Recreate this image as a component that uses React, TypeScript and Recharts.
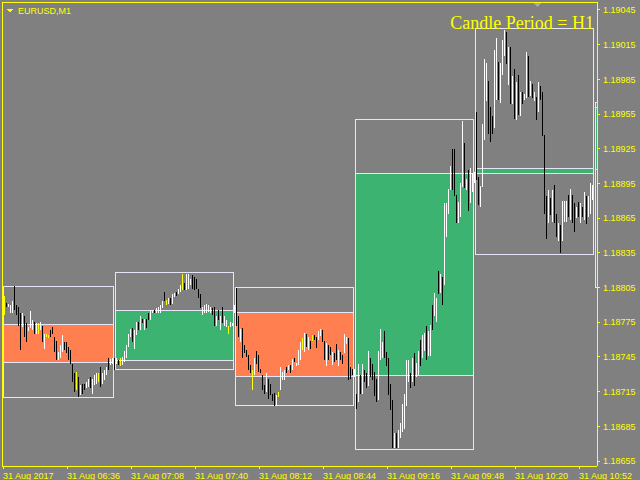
import React from "react";
import { Bar, Cell, ComposedChart, ReferenceArea, ReferenceLine, XAxis, YAxis } from "recharts";

// M1 bars, one per minute from 31 Aug 06:04
const M1_HIGH = [
  1.18794, 1.18798, 1.18792, 1.18791, 1.1879, 1.18793, 1.18806, 1.1879, 1.18788, 1.18783,
  1.18783, 1.1878, 1.18774, 1.18771, 1.18785, 1.18777, 1.18775, 1.18774, 1.18774, 1.18775,
  1.18772, 1.18765, 1.18765, 1.18764, 1.18768, 1.18771, 1.18762, 1.18759, 1.18749, 1.18755,
  1.18764, 1.18758, 1.18758, 1.18754, 1.18751, 1.18739, 1.18731, 1.18732, 1.18728, 1.18721,
  1.18722, 1.18722, 1.18723, 1.18726, 1.18728, 1.18726, 1.18729, 1.18731, 1.18731, 1.18736,
  1.18731, 1.18734, 1.18736, 1.18744, 1.18743, 1.18744,
  1.18744, 1.18744, 1.18742, 1.18744, 1.18745, 1.1875, 1.18755, 1.18765, 1.18769, 1.1877,
  1.18768, 1.18775, 1.18775, 1.1878, 1.18778, 1.18778, 1.18778, 1.18783, 1.18786, 1.18786,
  1.18786, 1.18787, 1.18788, 1.1879, 1.18793, 1.18801, 1.18794, 1.18796, 1.18796, 1.18799,
  1.188, 1.18801, 1.18804, 1.18807, 1.18817, 1.18809, 1.18817, 1.18817, 1.18812, 1.18816,
  1.18814, 1.18812, 1.18804, 1.18799, 1.18788, 1.1879, 1.18791, 1.1879, 1.18788, 1.18787,
  1.18788, 1.1878, 1.18786, 1.1878, 1.18788, 1.1878, 1.18777, 1.18772, 1.18775, 1.18774,
  1.1879, 1.18805, 1.1878, 1.18769, 1.1877, 1.18755, 1.18751, 1.18747, 1.18738, 1.18734,
  1.18744, 1.1875, 1.18747, 1.18735, 1.18729, 1.18721, 1.18731, 1.18726, 1.18722, 1.18713,
  1.18714, 1.18712, 1.18715, 1.18736, 1.18732, 1.18734, 1.18736, 1.18738, 1.18738, 1.18743,
  1.18744, 1.1874, 1.18751, 1.18758, 1.18761, 1.18766, 1.18765, 1.18762, 1.18759, 1.18764,
  1.18764, 1.18762, 1.18767, 1.18769, 1.18768, 1.18759, 1.18757, 1.18755, 1.18754, 1.18749,
  1.18748, 1.18756, 1.18751, 1.18749, 1.18747, 1.18765, 1.18762, 1.18761, 1.18736, 1.18735,
  1.18735, 1.18713, 1.18739, 1.18729, 1.18739, 1.18734, 1.18731, 1.1875, 1.18744, 1.18739,
  1.18732, 1.18726, 1.1875, 1.18769, 1.18758, 1.18767, 1.18749, 1.18744, 1.18722, 1.18708,
  1.18679, 1.18679, 1.18682, 1.18688, 1.18704, 1.18713, 1.18742, 1.18742, 1.18731, 1.18744,
  1.18748, 1.1874, 1.1875, 1.1876, 1.18764, 1.18766, 1.18772, 1.18767, 1.18773, 1.1879,
  1.188, 1.18796, 1.18819, 1.18817, 1.18814, 1.18878, 1.18878, 1.1889, 1.1891, 1.18925,
  1.18925, 1.18885, 1.18879, 1.18895, 1.18949, 1.1893, 1.18899, 1.18907, 1.18908, 1.18904,
  1.18905, 1.18957, 1.18901, 1.18893, 1.18946, 1.19003, 1.18999, 1.18984, 1.18961, 1.18953,
  1.1901, 1.19021, 1.19, 1.18999, 1.19019, 1.19028, 1.19026, 1.19013, 1.19013, 1.18988,
  1.18994, 1.18983, 1.18989, 1.18974, 1.18974, 1.18972, 1.19009, 1.19005, 1.18984, 1.18981,
  1.18974, 1.1897, 1.18983, 1.18979, 1.18974, 1.18937, 1.18884, 1.18889, 1.18882, 1.18889,
  1.18894, 1.18869, 1.18861, 1.18859, 1.1888, 1.1888, 1.1888, 1.18885, 1.1889, 1.18885,
  1.18878, 1.18875, 1.18879, 1.18878, 1.18875, 1.18888, 1.18884, 1.18884, 1.18895, 1.18894,
];

const M1_LOW = [
  1.18786, 1.18781, 1.18788, 1.18788, 1.18783, 1.18783, 1.18786, 1.18781, 1.18772, 1.18751,
  1.18771, 1.18762, 1.18758, 1.18767, 1.1877, 1.18768, 1.18765, 1.18765, 1.18765, 1.18768,
  1.18758, 1.18752, 1.18762, 1.18761, 1.18762, 1.18765, 1.18749, 1.18742, 1.18742, 1.18744,
  1.18749, 1.18751, 1.18748, 1.18742, 1.18739, 1.18723, 1.18715, 1.18716, 1.1871, 1.18712,
  1.18713, 1.18716, 1.18718, 1.18719, 1.18718, 1.18713, 1.18721, 1.18722, 1.18723, 1.18719,
  1.18722, 1.18725, 1.18729, 1.18734, 1.18738, 1.18739,
  1.18734, 1.18739, 1.18738, 1.18737, 1.18738, 1.18741, 1.18744, 1.18754, 1.18762, 1.18758,
  1.18752, 1.18764, 1.18768, 1.18768, 1.18774, 1.18768, 1.1877, 1.18777, 1.18777, 1.18783,
  1.18783, 1.18783, 1.18783, 1.18783, 1.18787, 1.18793, 1.1879, 1.18791, 1.1879, 1.18791,
  1.18797, 1.18798, 1.18799, 1.18801, 1.18803, 1.18803, 1.18803, 1.18804, 1.18807, 1.18804,
  1.18803, 1.18804, 1.18796, 1.18787, 1.18781, 1.18783, 1.18783, 1.18784, 1.18783, 1.18781,
  1.18772, 1.18772, 1.18777, 1.18768, 1.18774, 1.18772, 1.18771, 1.18765, 1.18771, 1.18772,
  1.18783, 1.18772, 1.18762, 1.18758, 1.18744, 1.18748, 1.18745, 1.18734, 1.18731, 1.18716,
  1.18729, 1.18739, 1.18732, 1.18731, 1.18716, 1.18713, 1.18715, 1.18709, 1.18712, 1.18707,
  1.18703, 1.18703, 1.1871, 1.18716, 1.18725, 1.18725, 1.18731, 1.18734, 1.18731, 1.18734,
  1.18741, 1.18737, 1.18738, 1.18742, 1.18751, 1.18749, 1.18754, 1.18751, 1.18752, 1.18759,
  1.1876, 1.18753, 1.1876, 1.18763, 1.18758, 1.18742, 1.18737, 1.18742, 1.18747, 1.18738,
  1.18741, 1.18742, 1.18737, 1.18742, 1.18739, 1.18748, 1.18756, 1.18725, 1.18726, 1.18729,
  1.18728, 1.187, 1.18706, 1.18713, 1.18713, 1.18723, 1.18718, 1.1872, 1.18728, 1.18725,
  1.18711, 1.18706, 1.18708, 1.18742, 1.18744, 1.18744, 1.18737, 1.18712, 1.18699, 1.18666,
  1.18666, 1.18666, 1.18666, 1.18675, 1.1868, 1.18683, 1.18703, 1.18723, 1.18718, 1.18723,
  1.1872, 1.18728, 1.18729, 1.18737, 1.18744, 1.1875, 1.18742, 1.18746, 1.18746, 1.18768,
  1.1878, 1.18775, 1.18799, 1.188, 1.1879, 1.18807, 1.18849, 1.18869, 1.18889, 1.18889,
  1.18884, 1.18861, 1.18861, 1.18866, 1.18892, 1.18891, 1.18889, 1.18871, 1.18878, 1.18888,
  1.18895, 1.18898, 1.18876, 1.18875, 1.18892, 1.18933, 1.18966, 1.18938, 1.18931, 1.18938,
  1.18943, 1.18967, 1.18967, 1.18965, 1.18989, 1.19005, 1.18998, 1.1898, 1.18964, 1.18964,
  1.18951, 1.1895, 1.18954, 1.18953, 1.18964, 1.18967, 1.18969, 1.1897, 1.18971, 1.18969,
  1.18966, 1.1895, 1.18957, 1.18967, 1.18936, 1.18869, 1.18847, 1.18861, 1.18868, 1.18862,
  1.18861, 1.18849, 1.18845, 1.18835, 1.18845, 1.18862, 1.18862, 1.18866, 1.18863, 1.18861,
  1.18853, 1.18865, 1.18866, 1.18861, 1.18866, 1.18863, 1.1886, 1.18866, 1.18869, 1.18881,
];

// W = up bar, B = down bar, Y = doji
const M1_KIND = (
  "WYBWWWBBBB" + "WBBWWWBWYW" + "BWYYBBBBWW" + "WBBBBBBYBW" + "BBWWBWWWYB" + "WWWBWW" +
  "BWBYWWWWWB" + "WWBWBWBBWW" + "BWWWWBYWBW" + "WBWWYBWWWB" + "BBBBWWWWWB" + "BWBWBWWYWW" +
  "WBBWBBBBBY" + "WBBBBBWBBB" + "BWYWWWBWBW" + "BWWWYWBWBY" + "BBWWBBWBBW" + "BBWBBWWBBB" +
  "WBWBWBBWBB" + "BBWWWBBBBB" + "WBWWWWWWBW" + "BWWBWWBWWB" + "WWBWBWWWWB" + "BBWWWBWBWW" +
  "WBBWWWWBBB" + "WWBWWWBWBW" + "BWBWBWWBWB" + "WBWBBBBWBW" + "BBWBWWWBWB" + "BWBWBWBWWW"
).split("");

// H1 candles drawn as boxes (minute index of first/last bar)
const H1_START = [0, 56, 116, 176, 236, 296];
const H1_END = [55, 115, 175, 235, 295, 297];
const H1_OPEN = [1.18773, 1.18742, 1.18783, 1.18729, 1.18904, 1.18907];
const H1_HIGH = [1.18806, 1.18818, 1.18805, 1.1895, 1.19029, 1.18965];
const H1_LOW = [1.1871, 1.18734, 1.18703, 1.18665, 1.18834, 1.18805];
const H1_CLOSE = [1.1874, 1.18785, 1.18728, 1.18904, 1.18908, 1.18961];

const PRICE_TICKS = [
  1.18655, 1.18685, 1.18715, 1.18745, 1.18775, 1.18805, 1.18835,
  1.18865, 1.18895, 1.18925, 1.18955, 1.18985, 1.19015, 1.19045,
];
const TIME_TICKS = [0, 32, 64, 96, 128, 160, 192, 224, 256, 288];
const TIME_LABELS = [
  "31 Aug 2017", "31 Aug 06:36", "31 Aug 07:08", "31 Aug 07:40", "31 Aug 08:12",
  "31 Aug 08:44", "31 Aug 09:16", "31 Aug 09:48", "31 Aug 10:20", "31 Aug 10:52",
];

const Y_MIN = 1.186507;
const Y_MAX = 1.190519;
const YELLOW = "#ffff00";
const FRAME = "#e6e6fa";
const BEAR = "#ff7f50";
const BULL = "#3cb371";
const FONT = "'Liberation Sans', Arial, sans-serif";
const KIND_COLOR: Record<string, string> = { W: "#ffffff", B: "#000000", Y: YELLOW };

const bars = M1_HIGH.map((h, i) => ({ t: i, range: [M1_LOW[i], h] }));

function TimeTick({ x, y, payload }: any) {
  const label = TIME_LABELS[TIME_TICKS.indexOf(payload.value)];
  return (
    <text x={x} y={y + 8} fill={YELLOW} fontSize={9} fontFamily={FONT} textAnchor="start">
      {label}
    </text>
  );
}

export default function App() {
  return (
    <div
      style={{
        position: "fixed",
        left: 0,
        top: 0,
        width: 640,
        height: 480,
        background: "#808080",
        shapeRendering: "crispEdges",
      } as React.CSSProperties}
    >
      <ComposedChart width={640} height={480} data={bars} margin={{ top: 2, right: 0, bottom: 0, left: 2 }}>
        <XAxis
          type="number"
          dataKey="t"
          domain={[-0.5, 297]}
          ticks={TIME_TICKS}
          interval={0}
          allowDataOverflow
          height={14}
          tickSize={3}
          tickMargin={2}
          axisLine={{ stroke: YELLOW }}
          tickLine={{ stroke: YELLOW }}
          tick={<TimeTick />}
        />
        <YAxis
          orientation="right"
          domain={[Y_MIN, Y_MAX]}
          ticks={PRICE_TICKS}
          interval={0}
          allowDataOverflow
          width={43}
          tickSize={3}
          tickMargin={3}
          axisLine={{ stroke: YELLOW }}
          tickLine={{ stroke: YELLOW }}
          tick={{ fill: YELLOW, fontSize: 9, fontFamily: FONT }}
          tickFormatter={(v: number) => v.toFixed(5)}
        />
        <ReferenceLine x={-0.5} stroke={YELLOW} />
        <ReferenceLine y={Y_MAX} stroke={YELLOW} />
        {H1_START.map((s, i) => (
          <ReferenceArea
            key={`body${i}`}
            x1={s}
            x2={H1_END[i]}
            y1={Math.min(H1_OPEN[i], H1_CLOSE[i])}
            y2={Math.max(H1_OPEN[i], H1_CLOSE[i])}
            fill={H1_CLOSE[i] >= H1_OPEN[i] ? BULL : BEAR}
            fillOpacity={1}
            stroke={FRAME}
            strokeWidth={1}
            ifOverflow="hidden"
          />
        ))}
        {H1_START.map((s, i) => (
          <ReferenceArea
            key={`hl${i}`}
            x1={s}
            x2={H1_END[i]}
            y1={H1_LOW[i]}
            y2={H1_HIGH[i]}
            fill="none"
            stroke={FRAME}
            strokeWidth={1}
            ifOverflow="hidden"
          />
        ))}
        <Bar dataKey="range" barSize={1} isAnimationActive={false}>
          {bars.map((b, i) => (
            <Cell key={b.t} fill={KIND_COLOR[M1_KIND[i]]} />
          ))}
        </Bar>
      </ComposedChart>
      <svg width={640} height={480} style={{ position: "absolute", left: 0, top: 0, pointerEvents: "none" }}>
        <polygon points="7,9 13,9 10,13" fill={YELLOW} />
        <text x={18} y={14} fill={YELLOW} fontSize={9} fontFamily={FONT}>
          EURUSD,M1
        </text>
        <polygon points="533,3 541,3 537,7" fill="#a8a8a8" />
        <text x={594} y={29} fill={YELLOW} fontSize={18} fontFamily="'Liberation Serif', 'Times New Roman', serif" textAnchor="end">
          Candle Period = H1
        </text>
      </svg>
    </div>
  );
}
